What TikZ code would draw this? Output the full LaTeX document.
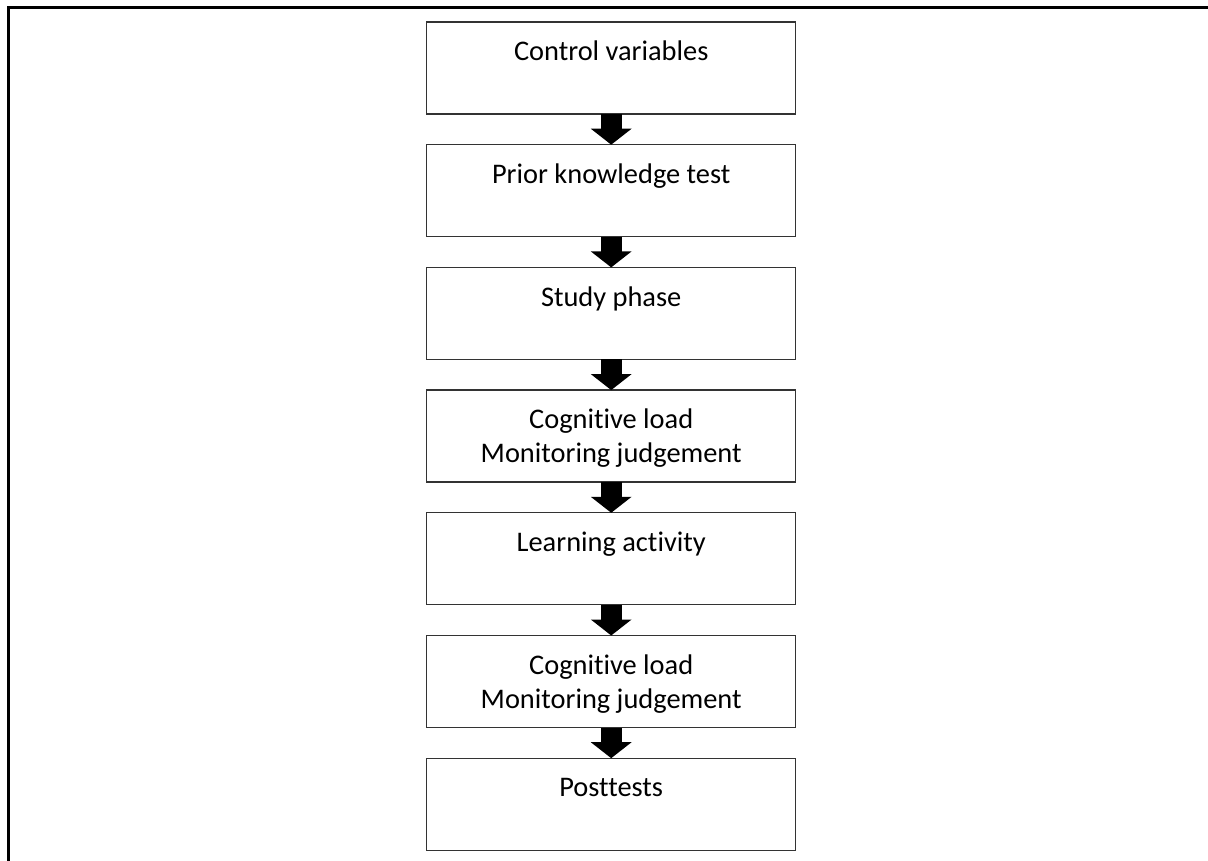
\documentclass[tikz,border=0pt]{standalone}
\usepackage{fontspec}
\setmainfont[Ligatures={NoCommon}]{Carlito}
\usetikzlibrary{arrows.meta,calc}

\tikzset{
  stagebox/.style={draw=black!80, line width=1.3pt, fill=white,
    minimum width=369pt, minimum height=92pt, inner sep=0pt, outer sep=0pt},
  stagetext/.style={inner sep=0pt, outer sep=0pt, anchor=base, align=center,
    font=\fontsize{28.4}{34}\selectfont},
  flowarrow/.style={line width=20.7pt,
    -{Triangle[width=40pt,length=16pt]}},
  frameline/.style={line width=3pt, black}
}

\begin{document}
\begin{tikzpicture}[x=1pt, y=-1pt]
  \useasboundingbox (0,0) rectangle (1208,861);

  % open frame: top and left edges only
  \coordinate (fTL) at (8.3,7.5);
  \coordinate (fTR) at (1208,7.5);
  \coordinate (fBL) at (8.3,861);
  \draw[frameline] (fTR) -- (fTL) -- (fBL);

  % stage boxes
  \node[stagebox] (b1) at (611.2,68.0)  {};
  \node[stagebox] (b2) at (611.2,190.7) {};
  \node[stagebox] (b3) at (611.2,313.4) {};
  \node[stagebox] (b4) at (611.2,436.1) {};
  \node[stagebox] (b5) at (611.2,558.8) {};
  \node[stagebox] (b6) at (611.2,681.5) {};
  \node[stagebox] (b7) at (611.2,804.2) {};

  % stage labels (two-line labels sit on the baseline of their last line)
  \node[stagetext] (t1) at ($(b1.north)+(0,38.7)$) {Control variables};
  \node[stagetext] (t2) at ($(b2.north)+(0,38.7)$) {Prior knowledge test};
  \node[stagetext] (t3) at ($(b3.north)+(0,38.7)$) {Study phase};
  \node[stagetext] (t4) at ($(b4.north)+(0,72.7)$) {Cognitive load\\Monitoring judgement};
  \node[stagetext] (t5) at ($(b5.north)+(0,38.7)$) {Learning activity};
  \node[stagetext] (t6) at ($(b6.north)+(0,72.7)$) {Cognitive load\\Monitoring judgement};
  \node[stagetext] (t7) at ($(b7.north)+(0,38.7)$) {Posttests};

  % arrows between stages
  \draw[flowarrow] (b1.south) -- (b2.north);
  \draw[flowarrow] (b2.south) -- (b3.north);
  \draw[flowarrow] (b3.south) -- (b4.north);
  \draw[flowarrow] (b4.south) -- (b5.north);
  \draw[flowarrow] (b5.south) -- (b6.north);
  \draw[flowarrow] (b6.south) -- (b7.north);
\end{tikzpicture}
\end{document}
